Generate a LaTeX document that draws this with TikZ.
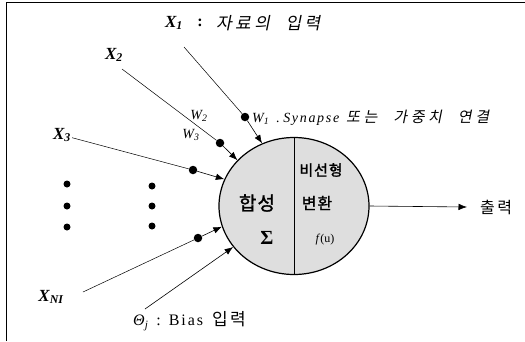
\documentclass[tikz,border=0pt]{standalone}
\usepackage{fontspec}
\setmainfont{Liberation Serif}
\newfontfamily\krhead[FakeSlant=0.2,LetterSpace=20]{Noto Sans CJK KR}
\newfontfamily\krsyn[FakeSlant=0.2,LetterSpace=24]{Noto Sans CJK KR}
\newfontfamily\kr[LetterSpace=15]{Noto Sans CJK KR}
\newfontfamily\krb[FakeBold=1.5,LetterSpace=6]{Noto Sans CJK KR}
\newfontfamily\serifsp[LetterSpace=12]{Liberation Serif}
\usetikzlibrary{shapes.geometric,arrows.meta}
\begin{document}
\begin{tikzpicture}[x=1pt,y=-1pt,
  xlbl/.style={inner sep=1pt, font=\fontsize{17}{17}\selectfont\bfseries\itshape},
  wlbl/.style={inner sep=0pt, font=\fontsize{14}{14}\selectfont\itshape},
  syn/.style={circle, fill=black, inner sep=0pt, minimum size=8.5pt},
  edot/.style={circle, fill=black, inner sep=0pt, minimum size=7pt},
  wire/.style={line width=0.5pt},
  arr/.style={line width=0.6pt, -{Latex[length=8.5pt,width=6.5pt]}},
  txt/.style={inner sep=0pt}]
\useasboundingbox (0,0) rectangle (525,341);
% frame (top and left only)
\draw[line width=0.8pt] (6,341) -- (6,2) -- (525,2);

% neuron
\node[ellipse, draw, line width=1.2pt, fill=black!13, minimum width=150pt,
      minimum height=137pt, inner sep=0pt] (neu) at (294,206) {};
\draw[line width=0.4pt] (neu.north) -- (neu.south);
\node[txt, font=\krb\fontsize{19}{19}\selectfont] (hap) at (257,203) {합성};
\node[txt, font=\fontsize{20}{20}\selectfont\bfseries] (sig) at (267,238) {Σ};
\node[txt, font=\krb\fontsize{15}{15}\selectfont] (bi) at (321,170) {비선형};
\node[txt, font=\krb\fontsize{16}{16}\selectfont] (byun) at (317,203) {변환};
\node[txt, font=\fontsize{12}{12}\selectfont] (fu) at (325,240) {\textit{f}(u)};

% heading
\node[xlbl] (x1) at (174,23) {X\textsubscript{1}};
\node[txt, font=\fontsize{16}{16}\selectfont\bfseries] (col1) at (200,23) {:};
\node[txt, anchor=west, font=\krhead\fontsize{17}{17}\selectfont] (x1t) at (216,23) {자료의\hspace{0.5em} 입력};

% input labels
\node[xlbl] (x2) at (114,55) {X\textsubscript{2}};
\node[xlbl] (x3) at (62,135) {X\textsubscript{3}};
\node[xlbl] (xn) at (51,297) {X\textsubscript{\textit{NI}}};

% synapse dots
\node[syn] (d1) at (245,117) {};
\node[syn] (d2) at (220,143) {};
\node[syn] (d3) at (193,170) {};
\node[syn] (dn) at (198,238) {};

% weight labels
\node[wlbl] (w2) at (199,116) {W\textsubscript{2}};
\node[wlbl] (w3) at (191,135) {W\textsubscript{3}};
\node[wlbl, anchor=west] (w1) at (252,118) {W\textsubscript{1}\ \ .\ {\serifsp\itshape Synapse}\ \ {\krsyn\fontsize{15}{15}\selectfont 또는\hspace{0.6em} 가중치\hspace{0.6em} 연결}};

% wires from inputs to synapses
\coordinate (x1s) at (184,47);
\coordinate (x2s) at (122,69);
\coordinate (xns) at (83,292);
\draw[wire] (x1s) -- (d1);
\draw[wire] (x2s) -- (d2);
\draw[wire] (x3) -- (d3);
\draw[wire] (xns) -- (dn);

% arrows into neuron
\draw[arr] (d1) -- (neu.117.6);
\draw[arr] (d2) -- (neu.141.6);
\draw[arr] (d3) -- (neu.159);
\draw[arr] (dn) -- (neu.196);

% bias
\node[txt, anchor=west, font=\fontsize{16}{16}\selectfont] (bias) at (133,321) {\textit{Θ}\textsubscript{\textit{j}}\hspace{8pt}:\hspace{8pt}{\serifsp Bias}\hspace{9pt}{\kr\fontsize{17}{17}\selectfont 입력}};
\coordinate (bs) at (145,309);
\draw[arr] (bs) -- (neu.214);

% ellipsis dots
\node[edot] (e1) at (67,184) {};
\node[edot] (e2) at (67,206) {};
\node[edot] (e3) at (67,227) {};
\node[edot] (e4) at (152,186) {};
\node[edot] (e5) at (152,206) {};
\node[edot] (e6) at (152,226) {};

% output
\node[txt, anchor=west, inner xsep=13pt, font=\kr\fontsize{16}{16}\selectfont] (out) at (467,207) {출력};
\draw[arr] (neu.east) -- (out.west);
\end{tikzpicture}
\end{document}
